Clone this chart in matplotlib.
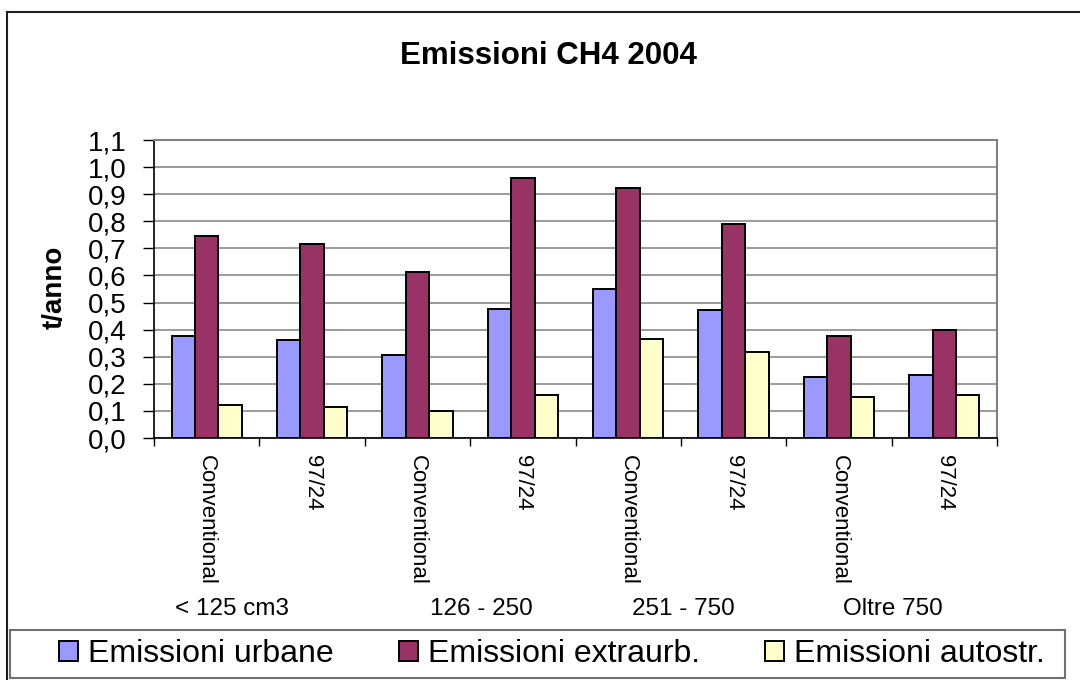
import matplotlib
matplotlib.use("Agg")
import matplotlib.pyplot as plt
import numpy as np
from matplotlib.patches import Rectangle, Patch
from matplotlib.lines import Line2D

# ---- data ----
categories = ["Conventional", "97/24", "Conventional", "97/24",
              "Conventional", "97/24", "Conventional", "97/24"]
groups = ["< 125 cm3", "126 - 250", "251 - 750", "Oltre 750"]
series_names = ["Emissioni urbane", "Emissioni extraurb.", "Emissioni autostr."]
urbane = [0.375, 0.360, 0.308, 0.478, 0.550, 0.471, 0.227, 0.234]
extraurb = [0.745, 0.715, 0.611, 0.959, 0.922, 0.789, 0.375, 0.397]
autostr = [0.123, 0.116, 0.101, 0.160, 0.367, 0.316, 0.153, 0.160]
yticks = [0.0, 0.1, 0.2, 0.3, 0.4, 0.5, 0.6, 0.7, 0.8, 0.9, 1.0, 1.1]

colors = ["#9999FF", "#993366", "#FFFFCC"]
FONT = "Liberation Sans"
plt.rcParams["font.family"] = [FONT, "DejaVu Sans"]

W, H = 1080, 680
fig = plt.figure(figsize=(W / 100, H / 100), dpi=100)

# outer border (left and top visible)
fig.add_artist(Line2D([7 / W, 7 / W], [0, 1 - 12 / H], transform=fig.transFigure,
                      color="#202020", lw=1.5))
fig.add_artist(Line2D([7 / W, 1], [1 - 12 / H, 1 - 12 / H], transform=fig.transFigure,
                      color="#202020", lw=1.5))

ax_l, ax_r, ax_t, ax_b = 154, 997, 140, 438
ax = fig.add_axes([ax_l / W, 1 - ax_b / H, (ax_r - ax_l) / W, (ax_b - ax_t) / H])

x = np.arange(len(categories))
bw = 0.222
for i, (vals, c, name) in enumerate(zip([urbane, extraurb, autostr], colors, series_names)):
    ax.bar(x + (i - 1) * bw, vals, width=bw, color=c, edgecolor="black",
           linewidth=1.4, zorder=3, label=name)

ax.set_xlim(-0.5, len(categories) - 0.5)
ax.set_ylim(0, 1.1)
ax.set_yticks(yticks)
ax.set_yticklabels([f"{v:.1f}".replace(".", ",") for v in yticks],
                   fontsize=20, family=FONT)
ax.yaxis.grid(True, color="#808080", lw=1.1, zorder=0)
ax.set_axisbelow(True)

ax.set_xticks(x)
ax.set_xticklabels(categories, rotation=270, fontsize=16, family=FONT)
ax.tick_params(axis="x", which="major", length=0, pad=12)
ax.set_xticks(np.arange(-0.5, len(categories), 1.0), minor=True)
ax.tick_params(axis="x", which="minor", length=6, width=1, color="black", direction="out")
ax.tick_params(axis="y", length=8, width=1, color="black", direction="out", pad=12)

for s in ["top", "right"]:
    ax.spines[s].set_color("#808080")
    ax.spines[s].set_linewidth(1.5)
ax.spines["left"].set_color("black")
ax.spines["bottom"].set_color("black")
ax.spines["left"].set_linewidth(1.2)
ax.spines["bottom"].set_linewidth(1.2)

# title and y label
fig.text(548 / W, 1 - 56 / H, "Emissioni CH4 2004", fontsize=22.5, fontweight="bold",
         ha="center", va="center", family=FONT)
fig.text(55 / W, 1 - 287 / H, "t/anno", fontsize=20, fontweight="bold", rotation=90,
         ha="center", va="center", family=FONT)

# group labels
group_x = [232, 481, 683, 893]
for gx, g in zip(group_x, groups):
    fig.text(gx / W, 1 - 609 / H, g, fontsize=17.5, ha="center", va="center", family=FONT)

# legend box
fig.add_artist(Rectangle((10 / W, 1 - 678 / H), (1065 - 10) / W, 48 / H,
                         transform=fig.transFigure, fill=False, edgecolor="#707070", lw=1.5))
handles = [Patch(facecolor=c, edgecolor="black", linewidth=1.4) for c in colors]
leg = fig.legend(handles, series_names, loc="center", ncol=3,
                 bbox_to_anchor=(552 / W, 1 - 654 / H), frameon=False,
                 prop={"family": FONT, "size": 23}, handlelength=0.6, handleheight=0.6,
                 handletextpad=0.3, columnspacing=2.05, borderpad=0)

fig.savefig("out.png", dpi=100)
